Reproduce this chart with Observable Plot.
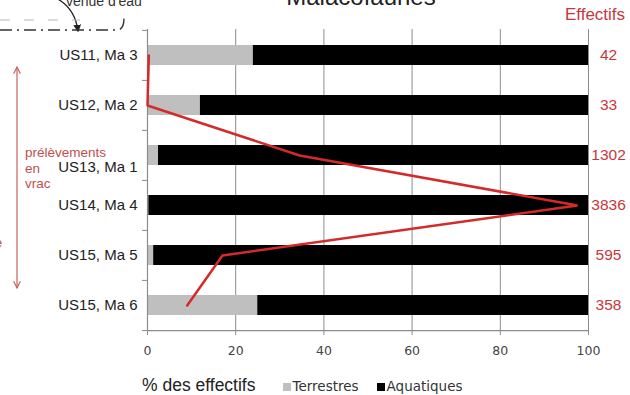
<!DOCTYPE html>
<html>
<head>
<meta charset="utf-8">
<script src="https://cdn.jsdelivr.net/npm/d3@7"></script>
<script src="https://cdn.jsdelivr.net/npm/@observablehq/plot@0.6"></script>
<style>
  body { margin: 0; background: #fff; }
  #wrap { position: relative; width: 630px; height: 395px; overflow: hidden; background:#fff; }
  #chart { position: absolute; left: 0; top: 0; }
  #overlay { position: absolute; left: 0; top: 0; pointer-events: none; }
  #legend { position: absolute; left: 142px; top: 375px; display: flex; align-items: baseline; white-space: nowrap; }
  #legend .title { font: 17.5px "Liberation Sans", Arial, sans-serif; color: #222; margin-right: 27px; }
  #legend .item { font: 13.5px "DejaVu Sans", sans-serif; color: #333; margin-right: 18px; display: flex; align-items: baseline; }
  #legend .sw { display: inline-block; width: 8px; height: 8px; margin-right: 2px; }
</style>
</head>
<body>
<div id="wrap">
  <div id="chart"></div>
  <div id="legend"></div>
  <svg id="overlay" width="630" height="395"></svg>
</div>
<script>
// ---- data ----
const categories = ["US11, Ma 3", "US12, Ma 2", "US13, Ma 1", "US14, Ma 4", "US15, Ma 5", "US15, Ma 6"];
const terrestres = [24, 12, 2.5, 0.3, 1.4, 25];
const aquatiques = terrestres.map(t => 100 - t);
const effectifs = [42, 33, 1302, 3836, 595, 358];
const effectifsPct = [0.3, 0, 34.5, 97.5, 17, 9]; // red line
const seriesNames = ["Terrestres", "Aquatiques"];
const seriesColors = ["#bfbfbf", "#000000"];
const xTicks = [0, 20, 40, 60, 80, 100];
const title = "Malacofaunes";
const xLabel = "% des effectifs";
const effLabel = "Effectifs";
const shiftedLabel = "US13, Ma 1"; // label pushed down in the original

// ---- tables ----
const bars = [];
categories.forEach((c, i) => {
  bars.push({cat: c, type: seriesNames[0], value: terrestres[i]});
  bars.push({cat: c, type: seriesNames[1], value: aquatiques[i]});
});
const rows = categories.map((c, i) => ({cat: c, eff: effectifs[i], pct: effectifsPct[i]}));

const W = 630, H = 362, mt = 29, mb = 32, ml = 147, mr = 42;
const step = (H - mt - mb) / categories.length;
const grey = "#8c8c8c";
const red = "#d42a2a";

const chart = Plot.plot({
  width: W, height: H,
  marginLeft: ml, marginRight: mr, marginTop: mt, marginBottom: mb,
  style: {background: "#fff", fontFamily: "'Liberation Sans', Arial, sans-serif", overflow: "visible"},
  x: {domain: [0, 100], ticks: xTicks},
  y: {domain: categories, paddingInner: 0.6, paddingOuter: 0.3},
  color: {domain: seriesNames, range: seriesColors},
  marks: [
    Plot.ruleX(xTicks.slice(1), {stroke: grey, strokeWidth: 1}),
    Plot.barX(bars, Plot.stackX({x: "value", y: "cat", fill: "type", order: null})),
    Plot.ruleX([0], {stroke: grey, strokeWidth: 1.2}),
    Plot.ruleY([categories[categories.length - 1]], {x1: 0, x2: 100, dy: step / 2, stroke: grey, strokeWidth: 1.2}),
    Plot.ruleY(categories, {x1: 0, x2: 0, insetLeft: -5, dy: -step / 2, stroke: grey}),
    Plot.ruleY([categories[categories.length - 1]], {x1: 0, x2: 0, insetLeft: -5, dy: step / 2, stroke: grey}),
    Plot.line(rows, {x: "pct", y: "cat", stroke: red, strokeWidth: 2.5, strokeLinejoin: "miter"}),
    Plot.text(rows, {y: "cat", text: d => String(d.eff), frameAnchor: "right", dx: 20, textAnchor: "middle", fill: "#c8363a", fontSize: 15.5}),
    Plot.axisX({ticks: xTicks, tickSize: 5, tickPadding: 11, stroke: grey, label: null, fontSize: 12.5, fontFamily: "'DejaVu Sans', sans-serif", color: "#444"}),
    Plot.axisY({ticks: categories.filter(c => c !== shiftedLabel), tickSize: 0, tickPadding: 10, label: null, fontSize: 15, color: "#222"}),
    Plot.axisY({ticks: [shiftedLabel], tickSize: 0, tickPadding: 10, label: null, fontSize: 15, color: "#222", dy: 12})
  ]
});
document.getElementById("chart").appendChild(chart);

// ---- legend (HTML) ----
const legend = document.getElementById("legend");
const lt = document.createElement("span"); lt.className = "title"; lt.textContent = xLabel; legend.appendChild(lt);
seriesNames.forEach((n, i) => {
  const it = document.createElement("span"); it.className = "item";
  const sw = document.createElement("span"); sw.className = "sw"; sw.style.background = seriesColors[i];
  it.appendChild(sw); it.appendChild(document.createTextNode(n));
  legend.appendChild(it);
});

// ---- annotations ----
const ov = d3.select("#overlay");
const defs = ov.append("defs");
defs.append("marker").attr("id", "ah").attr("viewBox", "0 0 10 10").attr("refX", 9).attr("refY", 5)
  .attr("markerWidth", 7).attr("markerHeight", 7).attr("orient", "auto-start-reverse")
  .append("path").attr("d", "M1,1 L9,5 L1,9").attr("fill", "none").attr("stroke", "#c86060").attr("stroke-width", 1.4);
defs.append("marker").attr("id", "ahb").attr("viewBox", "0 0 10 10").attr("refX", 8).attr("refY", 5)
  .attr("markerWidth", 6).attr("markerHeight", 6).attr("orient", "auto")
  .append("path").attr("d", "M0,0 L10,5 L0,10 Z").attr("fill", "#222");

ov.append("text").attr("x", 361).attr("y", 5).attr("text-anchor", "middle")
  .style("font", "24px 'Liberation Sans', Arial, sans-serif").attr("fill", "#222").text(title);
ov.append("text").attr("x", 595).attr("y", 20).attr("text-anchor", "middle")
  .style("font", "17px 'Liberation Sans', Arial, sans-serif").attr("fill", "#c8363a").text(effLabel);

// vertical double arrow + text
ov.append("line").attr("x1", 17).attr("x2", 17).attr("y1", 67).attr("y2", 288)
  .attr("stroke", "#c86060").attr("stroke-width", 1.2)
  .attr("marker-start", "url(#ah)").attr("marker-end", "url(#ah)");
const ann = ["prélèvements", "en", "vrac"];
ann.forEach((t, i) => ov.append("text").attr("x", 25).attr("y", 157 + i * 15.5)
  .style("font", "13.5px 'Liberation Sans', Arial, sans-serif").attr("fill", "#c0504d").text(t));
ov.append("text").attr("x", -5).attr("y", 247).style("font", "13px 'Liberation Sans', Arial, sans-serif")
  .attr("fill", "#c0504d").text("e");

// top-left sketch: "venue d'eau"
ov.append("text").attr("x", 66).attr("y", 6).style("font", "14px 'Liberation Sans', Arial, sans-serif")
  .attr("fill", "#333").text("venue d'eau");
ov.append("path").attr("d", "M56,-2 Q75,8 78,31").attr("fill", "none").attr("stroke", "#222")
  .attr("stroke-width", 1.3).attr("marker-end", "url(#ahb)");
ov.append("path").attr("d", "M0,30 L118,30 Q124,29 124,18").attr("fill", "none").attr("stroke", "#333")
  .attr("stroke-width", 1.4).attr("stroke-dasharray", "12,5,2,5");
ov.append("path").attr("d", "M0,20 L80,20").attr("fill", "none").attr("stroke", "#bbb")
  .attr("stroke-width", 1).attr("stroke-dasharray", "10,14");
</script>
</body>
</html>
